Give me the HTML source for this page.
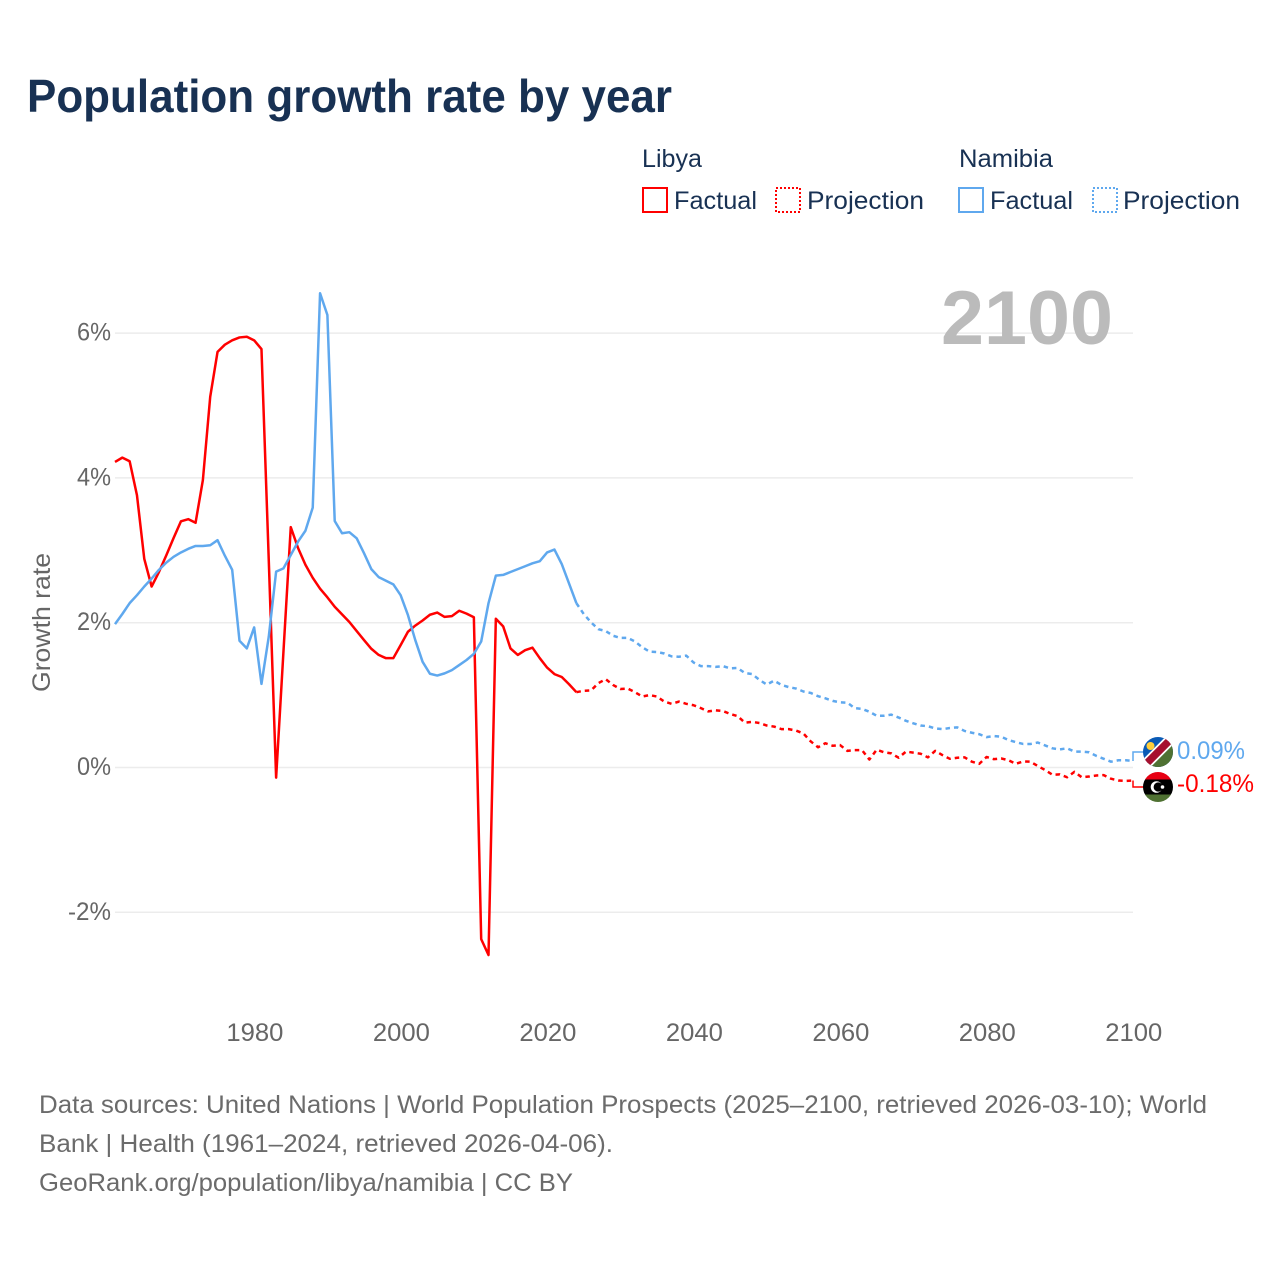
<!DOCTYPE html>
<html lang="en">
<head>
<meta charset="utf-8">
<title>Population growth rate by year</title>
<style>
html,body{margin:0;padding:0;background:#fff;}
svg{display:block;font-family:"Liberation Sans",sans-serif;}
</style>
</head>
<body>
<svg id="chart" xmlns="http://www.w3.org/2000/svg" width="1280" height="1280" viewBox="0 0 1280 1280">
  <rect x="0" y="0" width="1280" height="1280" fill="#ffffff"/>
  <text x="27" y="112" font-size="46" font-weight="700" fill="#183153" textLength="645" lengthAdjust="spacingAndGlyphs">Population growth rate by year</text>

  <g font-size="25" fill="#183153">
    <text x="642" y="167" textLength="60" lengthAdjust="spacingAndGlyphs">Libya</text>
    <rect x="643" y="188" width="24" height="24" fill="none" stroke="#ff0000" stroke-width="2"/>
    <text x="674" y="209" textLength="83" lengthAdjust="spacingAndGlyphs">Factual</text>
    <rect x="776" y="188" width="24" height="24" fill="none" stroke="#ff0000" stroke-width="2" stroke-dasharray="2 2"/>
    <text x="807" y="209" textLength="117" lengthAdjust="spacingAndGlyphs">Projection</text>

    <text x="959" y="167" textLength="94" lengthAdjust="spacingAndGlyphs">Namibia</text>
    <rect x="959" y="188" width="24" height="24" fill="none" stroke="#5fa8ee" stroke-width="2"/>
    <text x="990" y="209" textLength="83" lengthAdjust="spacingAndGlyphs">Factual</text>
    <rect x="1093" y="188" width="24" height="24" fill="none" stroke="#5fa8ee" stroke-width="2" stroke-dasharray="2 2"/>
    <text x="1123" y="209" textLength="117" lengthAdjust="spacingAndGlyphs">Projection</text>
  </g>

  <g id="grid"></g>
  <g id="yticks"></g>
  <g id="xticks"></g>

  <text transform="translate(50,622.5) rotate(-90)" text-anchor="middle" font-size="25" fill="#666666" textLength="139" lengthAdjust="spacingAndGlyphs">Growth rate</text>

  <text x="1113" y="344" text-anchor="end" font-size="76" font-weight="700" fill="#bbbbbb" textLength="172" lengthAdjust="spacingAndGlyphs">2100</text>

  <g id="series"></g>

  <defs>
    <clipPath id="clip-namibia"><circle cx="1158" cy="752" r="15"/></clipPath>
    <clipPath id="clip-libya"><circle cx="1158" cy="787" r="15"/></clipPath>
  </defs>

  <g clip-path="url(#clip-namibia)">
    <rect x="1143" y="737" width="30" height="30" fill="#0a5ab5"/>
    <polygon points="1173,737 1173,767 1143,767" fill="#4f7132"/>
    <line x1="1143" y1="767" x2="1173" y2="737" stroke="#ffffff" stroke-width="11"/>
    <line x1="1143" y1="767" x2="1173" y2="737" stroke="#a6102f" stroke-width="7.5"/>
    <circle cx="1150.5" cy="746" r="4" fill="#ffce3a"/>
  </g>
  <g clip-path="url(#clip-libya)">
    <rect x="1143" y="772" width="30" height="7.5" fill="#e70013"/>
    <rect x="1143" y="779.5" width="30" height="15" fill="#000000"/>
    <rect x="1143" y="794.5" width="30" height="8" fill="#4f7132"/>
    <circle cx="1156.5" cy="787" r="5.8" fill="#ffffff"/>
    <circle cx="1158.2" cy="787" r="4.6" fill="#000000"/>
    <circle cx="1162.5" cy="787" r="1.8" fill="#ffffff"/>
  </g>

  <g id="endlabels"></g>

  <g font-size="25" fill="#6b6b6b">
    <text x="39" y="1113" textLength="1168" lengthAdjust="spacingAndGlyphs">Data sources: United Nations | World Population Prospects (2025–2100, retrieved 2026-03-10); World</text>
    <text x="39" y="1152" textLength="574" lengthAdjust="spacingAndGlyphs">Bank | Health (1961–2024, retrieved 2026-04-06).</text>
    <text x="39" y="1191" textLength="534" lengthAdjust="spacingAndGlyphs">GeoRank.org/population/libya/namibia | CC BY</text>
  </g>
</svg>

<script>
const yTickValues = [6, 4, 2, 0, -2];
const yTickLabels = ['6%', '4%', '2%', '0%', '-2%'];
const xTickValues = [1980, 2000, 2020, 2040, 2060, 2080, 2100];
const xTickLabels = ['1980', '2000', '2020', '2040', '2060', '2080', '2100'];

const factualStartYear = 1961;
const projectionStartYear = 2024;

const libyaFactual = [4.22,4.28,4.23,3.76,2.88,2.50,2.70,2.93,3.17,3.40,3.43,3.38,3.97,5.12,5.74,5.84,5.90,5.94,5.95,5.90,5.78,2.85,-0.14,1.60,3.32,3.03,2.80,2.62,2.47,2.35,2.22,2.115,2.01,1.885,1.76,1.64,1.555,1.51,1.51,1.69,1.875,1.96,2.03,2.11,2.14,2.08,2.09,2.165,2.125,2.075,-2.37,-2.59,2.055,1.95,1.645,1.555,1.62,1.655,1.51,1.38,1.29,1.25,1.15,1.04];
const libyaProjection = [1.04,1.06,1.065,1.165,1.22,1.14,1.085,1.09,1.04,0.98,1.0,0.98,0.91,0.88,0.91,0.88,0.86,0.82,0.775,0.79,0.78,0.74,0.71,0.62,0.63,0.615,0.58,0.565,0.53,0.53,0.51,0.47,0.36,0.28,0.335,0.30,0.31,0.23,0.24,0.24,0.11,0.245,0.21,0.195,0.135,0.22,0.205,0.19,0.14,0.23,0.17,0.12,0.135,0.14,0.08,0.05,0.145,0.115,0.125,0.10,0.05,0.085,0.08,0.02,-0.035,-0.10,-0.095,-0.135,-0.06,-0.135,-0.125,-0.11,-0.105,-0.155,-0.18,-0.185,-0.18];
const namibiaFactual = [1.98,2.12,2.27,2.38,2.50,2.61,2.73,2.83,2.91,2.97,3.02,3.06,3.06,3.07,3.14,2.925,2.73,1.75,1.645,1.935,1.155,1.81,2.705,2.75,2.935,3.12,3.27,3.59,6.55,6.25,3.405,3.235,3.25,3.165,2.96,2.74,2.63,2.58,2.53,2.38,2.105,1.76,1.46,1.295,1.27,1.30,1.345,1.415,1.485,1.57,1.74,2.27,2.65,2.66,2.70,2.74,2.78,2.82,2.85,2.97,3.01,2.81,2.54,2.27];
const namibiaProjection = [2.27,2.12,2.005,1.91,1.885,1.82,1.79,1.79,1.74,1.66,1.60,1.595,1.575,1.535,1.53,1.545,1.45,1.40,1.40,1.39,1.40,1.37,1.375,1.305,1.29,1.21,1.145,1.20,1.14,1.11,1.09,1.05,1.03,0.985,0.955,0.92,0.90,0.895,0.82,0.81,0.77,0.715,0.715,0.73,0.69,0.645,0.61,0.58,0.57,0.54,0.53,0.545,0.555,0.505,0.48,0.46,0.42,0.435,0.425,0.38,0.35,0.325,0.325,0.345,0.305,0.265,0.25,0.265,0.22,0.22,0.21,0.16,0.12,0.08,0.10,0.10,0.09];

const SVG_NS = 'http://www.w3.org/2000/svg';

function xScale(year) {
  return 115 + (year - 1961) * (1133 - 115) / 139;
}
function yScale(value) {
  return 767.5 - value * 72.4;
}
function linePath(startYear, values) {
  return values.map(function (v, i) {
    return (i ? 'L' : 'M') + xScale(startYear + i).toFixed(2) + ' ' + yScale(v).toFixed(2);
  }).join(' ');
}
function make(tag, parentId, attrs, text) {
  const node = document.createElementNS(SVG_NS, tag);
  Object.keys(attrs).forEach(function (k) { node.setAttribute(k, attrs[k]); });
  if (text !== undefined) node.textContent = text;
  document.getElementById(parentId).appendChild(node);
  return node;
}

yTickValues.forEach(function (v, i) {
  const yPos = yScale(v);
  const gridLine = make('line', 'grid', {x1: 115, x2: 1133, y1: yPos, y2: yPos, stroke: '#ececec', 'stroke-width': 1.5});
  
  
  const label = make('text', 'yticks', {x: 111, y: yPos + 7.5, 'text-anchor': 'end', 'font-size': 25, fill: '#666666', textLength: yTickLabels[i].length > 2 ? 43 : 34, lengthAdjust: 'spacingAndGlyphs'}, yTickLabels[i]);
  
  
});

xTickValues.forEach(function (v, i) {
  const label = make('text', 'xticks', {x: xScale(v) + 0.8, y: 1041, 'text-anchor': 'middle', 'font-size': 25, fill: '#666666', textLength: 57, lengthAdjust: 'spacingAndGlyphs'}, xTickLabels[i]);
  
  
});

const libyaProjectionLine = make('path', 'series', {d: linePath(projectionStartYear, libyaProjection), fill: 'none', stroke: '#ff0000', 'stroke-width': 2.5, 'stroke-dasharray': '4.5 4', 'stroke-linejoin': 'round'});



const namibiaProjectionLine = make('path', 'series', {d: linePath(projectionStartYear, namibiaProjection), fill: 'none', stroke: '#5fa8ee', 'stroke-width': 2.5, 'stroke-dasharray': '4.5 4', 'stroke-linejoin': 'round'});



const libyaFactualLine = make('path', 'series', {d: linePath(factualStartYear, libyaFactual), fill: 'none', stroke: '#ff0000', 'stroke-width': 2.5, 'stroke-linejoin': 'round'});



const namibiaFactualLine = make('path', 'series', {d: linePath(factualStartYear, namibiaFactual), fill: 'none', stroke: '#5fa8ee', 'stroke-width': 2.5, 'stroke-linejoin': 'round'});



const libyaLast = libyaProjection[libyaProjection.length - 1];
const namibiaLast = namibiaProjection[namibiaProjection.length - 1];

const libyaConnector = make('path', 'series', {d: 'M' + xScale(2100) + ' ' + yScale(libyaLast) + ' V787 H1146', fill: 'none', stroke: '#ff0000', 'stroke-width': 1.5});



const namibiaConnector = make('path', 'series', {d: 'M' + xScale(2100) + ' ' + yScale(namibiaLast) + ' V752 H1146', fill: 'none', stroke: '#5fa8ee', 'stroke-width': 1.5});



const namibiaEndLabel = make('text', 'endlabels', {x: 1177, y: 759, 'font-size': 25, fill: '#5fa8ee', textLength: 68, lengthAdjust: 'spacingAndGlyphs'}, namibiaLast.toFixed(2) + '%');



const libyaEndLabel = make('text', 'endlabels', {x: 1177, y: 792, 'font-size': 25, fill: '#ff0000', textLength: 77, lengthAdjust: 'spacingAndGlyphs'}, libyaLast.toFixed(2) + '%');


</script>
</body>
</html>
